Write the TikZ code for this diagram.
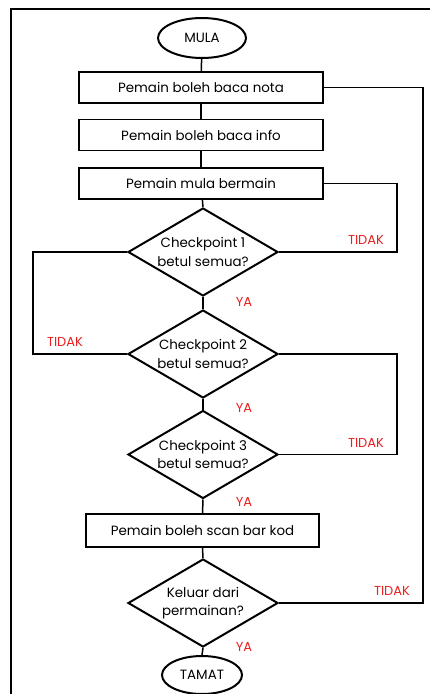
\documentclass[tikz,border=0pt]{standalone}
\usepackage{fontspec}
\setmainfont{Poppins}
\usetikzlibrary{shapes.geometric}
\definecolor{labelred}{RGB}{232,32,32}
\begin{document}
\begin{tikzpicture}[x=1pt,y=-1pt,
  every node/.style={font=\fontsize{13.4}{18.5}\selectfont},
  procbox/.style={draw, line width=1.5pt, rectangle, minimum width=244pt, minimum height=31pt, inner sep=0pt},
  termbox/.style={draw, line width=2pt, ellipse, inner sep=0pt},
  decbox/.style={draw, line width=2pt, diamond, aspect=1.7, inner sep=0pt, minimum width=150pt, minimum height=88pt, align=center},
  wire/.style={line width=1.5pt},
  yesno/.style={text=labelred, font=\fontsize{13}{15}\selectfont, inner sep=0pt}]
\useasboundingbox (0,0) rectangle (430,694);
\draw[line width=2pt] (11,694) -- (11,9) -- (430,9);

\node[termbox, minimum width=88pt, minimum height=40pt] (mula) at (202,38) {MULA};
\node[procbox] (b1) at (201,87.5) {Pemain boleh baca nota};
\node[procbox] (b2) at (201,135) {Pemain boleh baca info};
\node[procbox] (b3) at (201,183.5) {Pemain mula bermain};
\node[decbox] (d1) at (203,252) {Checkpoint 1\\betul semua?};
\node[decbox] (d2) at (203,354) {Checkpoint 2\\betul semua?};
\node[decbox] (d3) at (203,454.5) {Checkpoint 3\\betul semua?};
\node[procbox, minimum width=233pt, minimum height=33pt] (b4) at (202.5,530.5) {Pemain boleh scan bar kod};
\node[decbox] (d4) at (203,603) {Keluar dari\\permainan?};
\node[termbox, minimum width=80pt, minimum height=38pt] (tamat) at (202,675) {TAMAT};

\coordinate (L) at (33,0);
\coordinate (R1) at (397,0);
\coordinate (R2) at (423,0);

\draw[wire] (mula) -- (b1);
\draw[wire] (b1) -- (b2);
\draw[wire] (b2) -- (b3);
\draw[wire] (b3) -- (d1.north);
\draw[wire] (d1.south) -- (d2.north);
\draw[wire] (d2.south) -- (d3.north);
\draw[wire] (d3.south) -- (b4.north);
\draw[wire] (b4.south) -- (d4.north);
\draw[wire] (d4.south) -- (tamat.north);

\draw[wire] (d1.west) -- (d1.west -| L) |- (d2.west);
\draw[wire] (d1.east) -- (d1.east -| R1) |- (b3.east);
\draw[wire] (d2.east) -- (d2.east -| R1) |- (d3.east);
\draw[wire] (d4.east) -- (d4.east -| R2) |- (b1.east);

\node[yesno] (t1) at (366,240) {TIDAK};
\node[yesno] (t2) at (65,342) {TIDAK};
\node[yesno] (t3) at (366,443) {TIDAK};
\node[yesno] (t4) at (392,591) {TIDAK};
\node[yesno] (y1) at (244,302) {YA};
\node[yesno] (y2) at (244,408) {YA};
\node[yesno] (y3) at (244,502) {YA};
\node[yesno] (y4) at (244,647) {YA};
\end{tikzpicture}
\end{document}
